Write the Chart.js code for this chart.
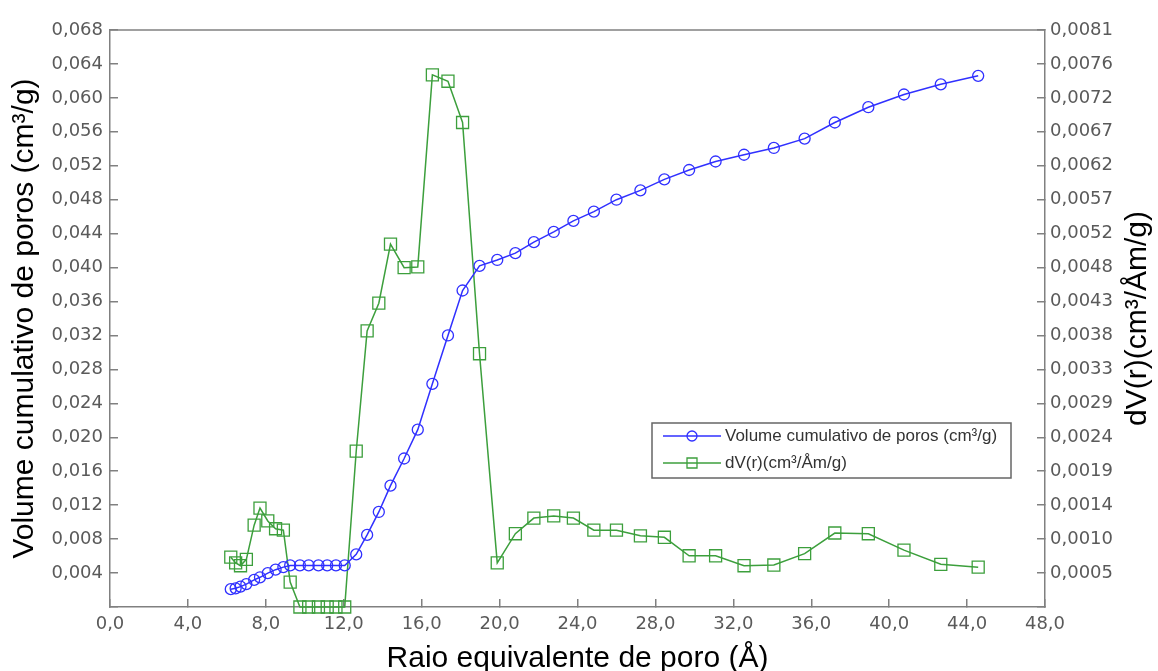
<!DOCTYPE html>
<html lang="pt">
<head>
<meta charset="utf-8">
<title>Volume cumulativo de poros</title>
<script src="https://cdn.jsdelivr.net/npm/chart.js@4/dist/chart.umd.min.js"></script>
<style>
  html, body { margin: 0; padding: 0; background: #fff; }
  canvas { display: block; }
</style>
</head>
<body>
<canvas id="grafico" width="1158" height="671"></canvas>
<script>
// Raio equivalente de poro (Å)
var raio = [6.2, 6.45, 6.7, 7.0, 7.4, 7.7, 8.1, 8.5, 8.9, 9.25, 9.75, 10.2, 10.7, 11.15, 11.6, 12.05,
    12.64, 13.2, 13.8, 14.4, 15.1, 15.8, 16.55, 17.35, 18.1, 18.97, 19.88,
    20.81, 21.76, 22.78, 23.79, 24.84, 26.0, 27.23, 28.46, 29.73, 31.09, 32.55, 34.08, 35.66, 37.21, 38.93, 40.76, 42.65, 44.57];

// Volume cumulativo de poros (cm³/g) - eixo esquerdo
var volumeCumulativo = [0.0021, 0.0022, 0.0024, 0.0027, 0.0032, 0.0035, 0.0040, 0.0044, 0.0047, 0.0049, 0.0049, 0.0049, 0.0049, 0.0049, 0.0049, 0.0049,
    0.0062, 0.0085, 0.0112, 0.0143, 0.0175, 0.0209, 0.0263, 0.0320, 0.0373, 0.0402, 0.0409,
    0.0417, 0.0430, 0.0442, 0.0455, 0.0466, 0.0480, 0.0491, 0.0504, 0.0515, 0.0525, 0.0533, 0.0541, 0.0552, 0.0571, 0.0589, 0.0604, 0.0616, 0.0626];

// dV(r) (cm³/Åm/g) - eixo direito
var dV = [0.00070, 0.00062, 0.00058, 0.00067, 0.00115, 0.00139, 0.00121, 0.00110, 0.00108, 0.00035, 0, 0, 0, 0, 0, 0,
    0.00219, 0.00388, 0.00427, 0.00510, 0.00477, 0.00478, 0.00748, 0.00739, 0.00681, 0.00356, 0.00062,
    0.00103, 0.00125, 0.00128, 0.00125, 0.00108, 0.00108, 0.00100, 0.00098, 0.00072, 0.00072, 0.00058, 0.00059, 0.00075, 0.00104, 0.00103, 0.00080, 0.00060, 0.00056];

var rotulos = ["Volume cumulativo de poros (cm³/g)", "dV(r)(cm³/Åm/g)"];
var tituloX = "Raio equivalente de poro (Å)";
var tituloEsq = "Volume cumulativo de poros (cm³/g)";
var tituloDir = "dV(r)(cm³/Åm/g)";

// os dois eixos verticais partilham 17 divisões
var esqMax = 0.068;
var dirMax = 0.00811;
var divisoes = 17;

var AZUL = "#3030ff";
var VERDE = "#3c9f3c";
var CINZA = "#808080";
var COR_TICKS = "#5a5a5a";
var FONTE_TICKS = { family: "'DejaVu Sans', sans-serif", size: 18 };
var FONTE_TITULO = { family: "'Liberation Sans', Arial, sans-serif", size: 30, lineHeight: 1 };

function virgula(v, casas) {
    return v.toFixed(casas).replace(".", ",");
}

function pontos(ys) {
    return raio.map(function (x, i) { return { x: x, y: ys[i] }; });
}

// linha de cima, título da direita e legenda
var extras = {
    id: "extras",
    afterDraw: function (chart) {
        var ctx = chart.ctx;
        var a = chart.chartArea;
        ctx.save();
        ctx.strokeStyle = CINZA;
        ctx.lineWidth = 1.5;
        ctx.beginPath();
        ctx.moveTo(a.left, a.top);
        ctx.lineTo(a.right, a.top);
        ctx.stroke();

        ctx.translate(1138, (a.top + a.bottom) / 2);
        ctx.rotate(-Math.PI / 2);
        ctx.font = "30px 'Liberation Sans', Arial, sans-serif";
        ctx.fillStyle = "#000";
        ctx.textAlign = "center";
        ctx.textBaseline = "middle";
        ctx.fillText(tituloDir, 0, 0);
        ctx.restore();

        // legenda
        ctx.save();
        ctx.fillStyle = "#fff";
        ctx.fillRect(652, 423, 359, 55);
        ctx.strokeStyle = "#666";
        ctx.lineWidth = 1.5;
        ctx.strokeRect(652, 423, 359, 55);
        ctx.font = "17px 'Liberation Sans', Arial, sans-serif";
        ctx.textAlign = "left";
        ctx.textBaseline = "middle";
        chart.data.datasets.forEach(function (ds, i) {
            var y = i === 0 ? 436 : 463;
            ctx.strokeStyle = ds.borderColor;
            ctx.lineWidth = 1.5;
            ctx.beginPath();
            ctx.moveTo(663, y);
            ctx.lineTo(721, y);
            ctx.stroke();
            ctx.lineWidth = 1.3;
            ctx.beginPath();
            if (ds.pointStyle === "rect") {
                ctx.rect(687, y - 5, 10, 10);
            } else {
                ctx.arc(692, y, 5, 0, Math.PI * 2);
            }
            ctx.stroke();
            ctx.fillStyle = "#333";
            ctx.fillText(ds.label, 725, y);
        });
        ctx.restore();
    }
};

function cargaGrafico() {
    var config = {
        type: "line",
        data: {
            datasets: [{
                label: rotulos[0],
                data: pontos(volumeCumulativo),
                yAxisID: "y",
                borderColor: AZUL,
                borderWidth: 1.5,
                pointStyle: "circle",
                pointRadius: 5.5,
                pointBorderWidth: 1.3,
                pointBorderColor: AZUL,
                pointBackgroundColor: "rgba(0,0,0,0)",
                clip: false
            }, {
                label: rotulos[1],
                data: pontos(dV),
                yAxisID: "y1",
                borderColor: VERDE,
                borderWidth: 1.5,
                pointStyle: "rect",
                pointRadius: 8.5,
                pointBorderWidth: 1.3,
                pointBorderColor: VERDE,
                pointBackgroundColor: "rgba(0,0,0,0)",
                clip: false
            }]
        },
        options: {
            responsive: false,
            animation: false,
            devicePixelRatio: 1,
            layout: { padding: { top: 30, left: 0, right: 0, bottom: 0 } },
            plugins: {
                legend: { display: false },
                tooltip: { enabled: false }
            },
            scales: {
                x: {
                    type: "linear",
                    min: 0,
                    max: 48,
                    afterFit: function (s) { s.height = 64; },
                    ticks: {
                        stepSize: 4,
                        autoSkip: false,
                        maxRotation: 0,
                        padding: 15,
                        color: COR_TICKS,
                        font: FONTE_TICKS,
                        callback: function (v) { return virgula(v, 1); }
                    },
                    grid: { drawOnChartArea: false, tickLength: -8, color: CINZA, lineWidth: 1.5 },
                    border: { color: CINZA, width: 1.5 },
                    title: {
                        display: true,
                        text: tituloX,
                        color: "#000",
                        font: FONTE_TITULO,
                        padding: { top: 0, bottom: -3 }
                    }
                },
                y: {
                    position: "left",
                    min: 0,
                    max: esqMax,
                    afterFit: function (s) { s.width = 110; },
                    ticks: {
                        stepSize: esqMax / divisoes,
                        autoSkip: false,
                        padding: 15,
                        color: COR_TICKS,
                        font: FONTE_TICKS,
                        callback: function (v) { return v === 0 ? "" : virgula(v, 3); }
                    },
                    grid: { drawOnChartArea: false, tickLength: -8, color: CINZA, lineWidth: 1.5 },
                    border: { color: CINZA, width: 1.5 },
                    title: {
                        display: true,
                        text: tituloEsq,
                        color: "#000",
                        font: FONTE_TITULO,
                        padding: { top: 9.6, bottom: 0 }
                    }
                },
                y1: {
                    position: "right",
                    min: 0,
                    max: dirMax,
                    afterFit: function (s) { s.width = 113; },
                    afterBuildTicks: function (s) {
                        var t = [];
                        for (var k = 0; k <= divisoes; k++) {
                            t.push({ value: k * dirMax / divisoes });
                        }
                        s.ticks = t;
                    },
                    ticks: {
                        autoSkip: false,
                        padding: 13,
                        color: COR_TICKS,
                        font: FONTE_TICKS,
                        callback: function (v) { return v === 0 ? "" : virgula(v, 4); }
                    },
                    grid: { drawOnChartArea: false, tickLength: -8, color: CINZA, lineWidth: 1.5 },
                    border: { color: CINZA, width: 1.5 }
                }
            }
        },
        plugins: [extras]
    };
    new Chart(document.getElementById("grafico").getContext("2d"), config);
}

cargaGrafico();
</script>
</body>
</html>
